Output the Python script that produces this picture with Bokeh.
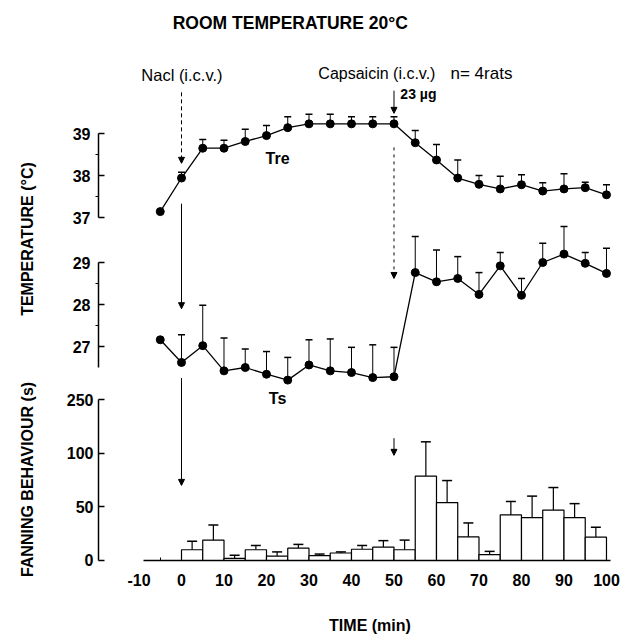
import math
from bokeh.plotting import figure
from bokeh.models import (Range1d, LinearAxis, FixedTicker, Whisker, TeeHead,
                          ColumnDataSource, Label, Arrow, NormalHead)
from bokeh.embed import file_html
from bokeh.resources import INLINE

FONT = "Liberation Sans"

# ---------------- data ----------------
time_min = [-5, 0, 5, 10, 15, 20, 25, 30, 35, 40, 45, 50,
            55, 60, 65, 70, 75, 80, 85, 90, 95, 100]
tre = [37.14, 37.94, 38.65, 38.65, 38.81, 38.95, 39.14, 39.23, 39.23, 39.23, 39.23, 39.23,
       38.78, 38.37, 37.94, 37.79, 37.68, 37.78, 37.63, 37.68, 37.71, 37.54]
tre_sem = [None, 0.14, 0.21, 0.19, 0.29, 0.24, 0.26, 0.23, 0.23, 0.17, 0.17, 0.17,
           0.29, 0.37, 0.43, 0.21, 0.30, 0.24, 0.20, 0.36, 0.13, 0.24]
ts = [27.16, 26.62, 27.02, 26.42, 26.50, 26.34, 26.20, 26.56, 26.42, 26.38, 26.26, 26.28,
      28.76, 28.54, 28.62, 28.24, 28.92, 28.22, 29.00, 29.20, 28.98, 28.74]
ts_sem = [None, 0.66, 0.96, 0.78, 0.44, 0.54, 0.54, 0.60, 0.76, 0.60, 0.78, 0.70,
          0.86, 0.76, 0.52, 0.52, 0.32, 0.40, 0.46, 0.66, 0.26, 0.60]

bar_start = [0, 5, 10, 15, 20, 25, 30, 35, 40, 45, 50, 55, 60, 65, 70, 75, 80, 85, 90, 95]
bar_end = [5, 10, 15, 20, 25, 30, 35, 40, 45, 50, 55, 60, 65, 70, 75, 80, 85, 90, 95, 100]
bar_mid = [2.5, 7.5, 12.5, 17.5, 22.5, 27.5, 32.5, 37.5, 42.5, 47.5,
           52.5, 57.5, 62.5, 67.5, 72.5, 77.5, 82.5, 87.5, 92.5, 97.5]
fanning = [10, 19, 2, 10, 4, 11.5, 4.5, 7, 10.5, 12.5,
           10, 78.6, 54, 22, 5.5, 42.5, 40, 47, 40, 21.7]
fanning_sem = [8, 14, 3, 4, 4, 3.5, 1.5, 1, 3.5, 6,
               9, 32, 20.5, 13, 3, 12.5, 20, 21, 13, 9.3]

x_ticks = [-10, 0, 10, 20, 30, 40, 50, 60, 70, 80, 90, 100]
x_tick_labels = {-10: "-10"}
tre_ticks = [37, 38, 39]
tre_minor = [37.5, 38.5]
ts_ticks = [27, 28, 29]
ts_minor = [27.5, 28.5]
fan_ticks = [0, 50, 100, 150]
fan_tick_labels = {150: "250"}

# ---------------- figure (frame covers whole canvas) ----------------
AXIS_X = -19.53   # where the y axes stand (time units)
p = figure(width=626, height=634, output_backend="svg", toolbar_location=None,
           x_range=Range1d(-42.59, 104.71), y_range=Range1d(-68.97, 521.9),
           x_axis_location=None, y_axis_location=None,
           min_border_left=0, min_border_right=0, min_border_top=0, min_border_bottom=0)
p.extra_y_ranges = {"tre": Range1d(27.071, 42.167), "ts": Range1d(20.143, 35.238)}
p.grid.visible = False
p.outline_line_color = None
p.background_fill_color = "white"
p.border_fill_color = "white"

# x axis (baseline of the bars)
xa = LinearAxis(ticker=FixedTicker(ticks=x_ticks, minor_ticks=[-5]),
                fixed_location=0, bounds=(-9, 101),
                axis_line_width=1.5, axis_line_color="black",
                major_tick_in=0, major_tick_out=0,
                minor_tick_in=3, minor_tick_out=0, minor_tick_line_width=1,
                major_label_standoff=14,
                major_label_overrides=x_tick_labels,
                major_label_text_font=FONT, major_label_text_font_size="16px",
                major_label_text_font_style="bold", major_label_text_color="black")
p.add_layout(xa, "below")


def add_yaxis(range_name, ticks, minor, bounds, overrides=None):
    ax = LinearAxis(y_range_name=range_name,
                    ticker=FixedTicker(ticks=ticks, minor_ticks=minor),
                    bounds=bounds, fixed_location=AXIS_X,
                    axis_line_width=1.5, axis_line_color="black",
                    major_tick_in=6, major_tick_out=0, major_tick_line_width=1.5,
                    minor_tick_in=0, minor_tick_out=3, minor_tick_line_width=1,
                    major_label_standoff=5,
                    major_label_text_font=FONT, major_label_text_font_size="16px",
                    major_label_text_font_style="bold", major_label_text_color="black")
    if overrides:
        ax.major_label_overrides = overrides
    p.add_layout(ax, "left")


add_yaxis("tre", tre_ticks, tre_minor, (37, 39))
add_yaxis("ts", ts_ticks, ts_minor, (26.5, 29))
add_yaxis("default", fan_ticks, [], (0, 150), fan_tick_labels)

# ---------------- fanning bars ----------------
p.quad(left=bar_start, right=bar_end, bottom=0, top=fanning,
       fill_color="white", line_color="black", line_width=1.2)
fan_src = ColumnDataSource(dict(t=bar_mid, lo=fanning,
                                hi=[v + e for v, e in zip(fanning, fanning_sem)]))
p.add_layout(Whisker(source=fan_src, base="t", lower="lo", upper="hi",
                     line_color="black", line_width=1.2,
                     upper_head=TeeHead(size=10, line_width=1.5, line_color="black"),
                     lower_head=None))

# ---------------- temperature curves ----------------
for name, vals, sem in (("tre", tre, tre_sem), ("ts", ts, ts_sem)):
    tt = [t for t, s in zip(time_min, sem) if s is not None]
    lo = [v for v, s in zip(vals, sem) if s is not None]
    hi = [v + s for v, s in zip(vals, sem) if s is not None]
    src = ColumnDataSource(dict(t=tt, lo=lo, hi=hi))
    p.add_layout(Whisker(source=src, base="t", lower="lo", upper="hi", y_range_name=name,
                         line_color="black", line_width=1,
                         upper_head=TeeHead(size=7, line_width=1.5, line_color="black"),
                         lower_head=None))
    p.line(time_min, vals, y_range_name=name, line_color="black", line_width=1.3)
    p.scatter(time_min, vals, y_range_name=name, size=8,
              fill_color="black", line_color="black")

# ---------------- arrows ----------------
def arrow(x, y0, y1, rng="default", dash="solid"):
    p.add_layout(Arrow(x_start=x, y_start=y0, x_end=x, y_end=y1, y_range_name=rng,
                       line_color="black", line_width=1, line_dash=dash,
                       end=NormalHead(size=6, fill_color="black", line_color="black")))

arrow(0, 39.98, 38.29, "tre", "4 3")
arrow(0, 30.40, 27.90, "ts")
arrow(0, 170, 70)
arrow(50, 40.02, 39.48, "tre")
arrow(50, 31.74, 28.62, "ts", "3 4")
arrow(50, 114, 98)

# ---------------- texts ----------------
def label(x, y, text, size="15px", style="normal", align="left", rng="default", angle=0):
    p.add_layout(Label(x=x, y=y, text=text, y_range_name=rng, angle=angle,
                       text_font=FONT, text_font_size=size, text_font_style=style,
                       text_color="black", text_align=align, text_baseline="middle"))

label(25.6, 500.5, "ROOM TEMPERATURE 20°C", "17.5px", "bold", "center")
label(0.1, 452.9, "Nacl (i.c.v.)", "16.5px", "normal", "center")
label(32.2, 453.9, "Capsaicin (i.c.v.)", "16px", "normal")
label(63.3, 453.9, "n= 4rats", "17px", "normal")
label(51.5, 39.93, "23 µg", "14px", "bold", "left", "tre")
label(22.6, 38.40, "Tre", "16px", "bold", "center", "tre")
label(22.6, 25.76, "Ts", "16px", "bold", "center", "ts")
label(-36.2, 299.6, "TEMPERATURE (°C)", "16px", "bold", "center", "default", math.pi / 2)
label(-36.2, 75.5, "FANNING BEHAVIOUR (s)", "16px", "bold", "center", "default", math.pi / 2)
label(44.35, -60.6, "TIME (min)", "16px", "bold", "center")

open("out.html", "w").write(file_html(p, INLINE))
